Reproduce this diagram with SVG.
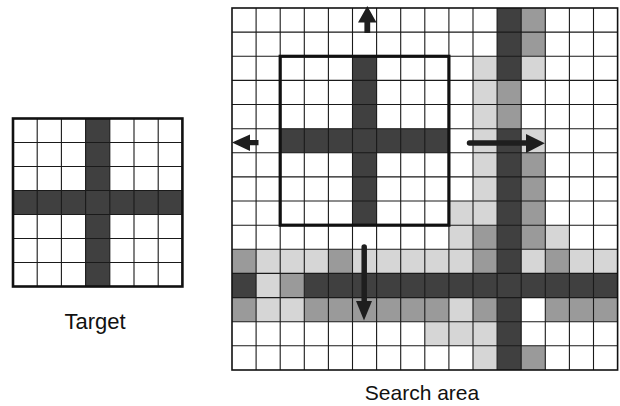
<svg xmlns="http://www.w3.org/2000/svg" width="620" height="406" viewBox="0 0 620 406">
<style>
.d{fill:#404040}
.m{fill:#9a9a9a}
.l{fill:#d6d6d6}
.grid{fill:none;stroke:#1a1a1a;stroke-width:1.1}
.frame{fill:none;stroke:#111;stroke-width:1.6}
.tframe{fill:none;stroke:#111;stroke-width:2.6}
.win{fill:none;stroke:#111;stroke-width:3.2}
.arrow{fill:#1e1e1e}
.shaft{fill:none;stroke:#1e1e1e;stroke-width:5.5;stroke-linecap:round}
.lbl{font-family:"Liberation Sans",Arial,sans-serif;fill:#111;text-anchor:middle}
</style>
<rect width="620" height="406" fill="#fff"/>

<g id="target">
  <rect class="d" x="85.6" y="118.5" width="24.2" height="168"/>
  <rect class="d" x="13" y="190.5" width="169.4" height="24"/>
  <path class="grid" d="M37.2 118.5V286.5M61.4 118.5V286.5M85.6 118.5V286.5M109.8 118.5V286.5M134 118.5V286.5M158.2 118.5V286.5M13 142.5H182.4M13 166.5H182.4M13 190.5H182.4M13 214.5H182.4M13 238.5H182.4M13 262.5H182.4"/>
  <rect class="tframe" x="13" y="118.5" width="169.4" height="168"/>
</g>

<g id="search-area">
  <!-- dark -->
  <rect class="d" x="497.1" y="8" width="24.1" height="72.4"/>
  <rect class="d" x="497.1" y="128.7" width="24.1" height="241.3"/>
  <rect class="d" x="304.3" y="273.4" width="313.3" height="24.2"/>
  <rect class="d" x="232" y="273.4" width="24.1" height="24.2"/>
  <!-- medium -->
  <rect class="m" x="521.2" y="8" width="24.1" height="48.3"/>
  <rect class="m" x="497.1" y="80.4" width="24.1" height="48.3"/>
  <rect class="m" x="521.2" y="152.8" width="24.1" height="96.5"/>
  <rect class="m" x="473" y="225.2" width="24.1" height="24.1"/>
  <rect class="m" x="232" y="249.3" width="24.1" height="24.1"/>
  <rect class="m" x="328.4" y="249.3" width="24.1" height="24.1"/>
  <rect class="m" x="473" y="249.3" width="24.1" height="24.1"/>
  <rect class="m" x="545.3" y="249.3" width="24.1" height="24.1"/>
  <rect class="m" x="280.2" y="273.4" width="24.1" height="24.2"/>
  <rect class="m" x="232" y="297.6" width="24.1" height="24.1"/>
  <rect class="m" x="304.3" y="297.6" width="144.6" height="24.1"/>
  <rect class="m" x="473" y="297.6" width="24.1" height="24.1"/>
  <rect class="m" x="545.3" y="297.6" width="72.3" height="24.1"/>
  <rect class="m" x="521.2" y="345.8" width="24.1" height="24.2"/>
  <!-- light -->
  <rect class="l" x="473" y="56.3" width="24.1" height="168.9"/>
  <rect class="l" x="521.2" y="56.3" width="24.1" height="24.1"/>
  <rect class="l" x="521.2" y="128.7" width="24.1" height="24.1"/>
  <rect class="l" x="448.9" y="201" width="24.1" height="48.3"/>
  <rect class="l" x="545.3" y="225.2" width="24.1" height="24.1"/>
  <rect class="l" x="256.1" y="249.3" width="72.3" height="24.1"/>
  <rect class="l" x="352.5" y="249.3" width="120.5" height="24.1"/>
  <rect class="l" x="521.2" y="249.3" width="24.1" height="24.1"/>
  <rect class="l" x="569.4" y="249.3" width="48.2" height="24.1"/>
  <rect class="l" x="256.1" y="273.4" width="24.1" height="24.2"/>
  <rect class="l" x="256.1" y="297.6" width="48.2" height="24.1"/>
  <rect class="l" x="448.9" y="297.6" width="24.1" height="24.1"/>
  <rect class="l" x="424.8" y="321.7" width="72.3" height="24.1"/>
  <rect class="l" x="473" y="345.8" width="24.1" height="24.2"/>
</g>

<g id="search-window">
  <rect class="d" x="352.5" y="56.3" width="24.1" height="168.9"/>
  <rect class="d" x="280.2" y="128.7" width="168.7" height="24.1"/>
</g>

<g id="search-grid">
  <path class="grid" d="M256.1 8V370M280.2 8V370M304.3 8V370M328.4 8V370M352.5 8V370M376.6 8V370M400.7 8V370M424.8 8V370M448.9 8V370M473 8V370M497.1 8V370M521.2 8V370M545.3 8V370M569.4 8V370M593.5 8V370M232 32.1H617.6M232 56.3H617.6M232 80.4H617.6M232 104.5H617.6M232 128.7H617.6M232 152.8H617.6M232 176.9H617.6M232 201H617.6M232 225.2H617.6M232 249.3H617.6M232 273.4H617.6M232 297.6H617.6M232 321.7H617.6M232 345.8H617.6"/>
  <rect class="frame" x="232" y="8" width="385.6" height="362"/>
  <rect class="win" x="280.2" y="56.3" width="168.7" height="168.9"/>
</g>

<g id="connectors">
  <path class="arrow" d="M367.3 6L376.5 22.5L370.2 22.5L370.2 33L364.4 33L364.4 22.5L358 22.5Z"/>
  <path class="arrow" d="M232 142.6L250 134.5L250 140L258.5 140L258.5 145.3L250 145.3L250 151Z"/>
  <line class="shaft" x1="469.5" y1="143" x2="528" y2="143"/>
  <path class="arrow" d="M526 134L544.8 143.3L526 153Z"/>
  <line class="shaft" x1="364.2" y1="247" x2="364.2" y2="303"/>
  <path class="arrow" d="M356 301L372 301L364 320.5Z"/>
</g>

<g id="labels">
  <text class="lbl" x="95" y="328.5" font-size="22">Target</text>
  <text class="lbl" x="422" y="400" font-size="21">Search area</text>
</g>
</svg>
